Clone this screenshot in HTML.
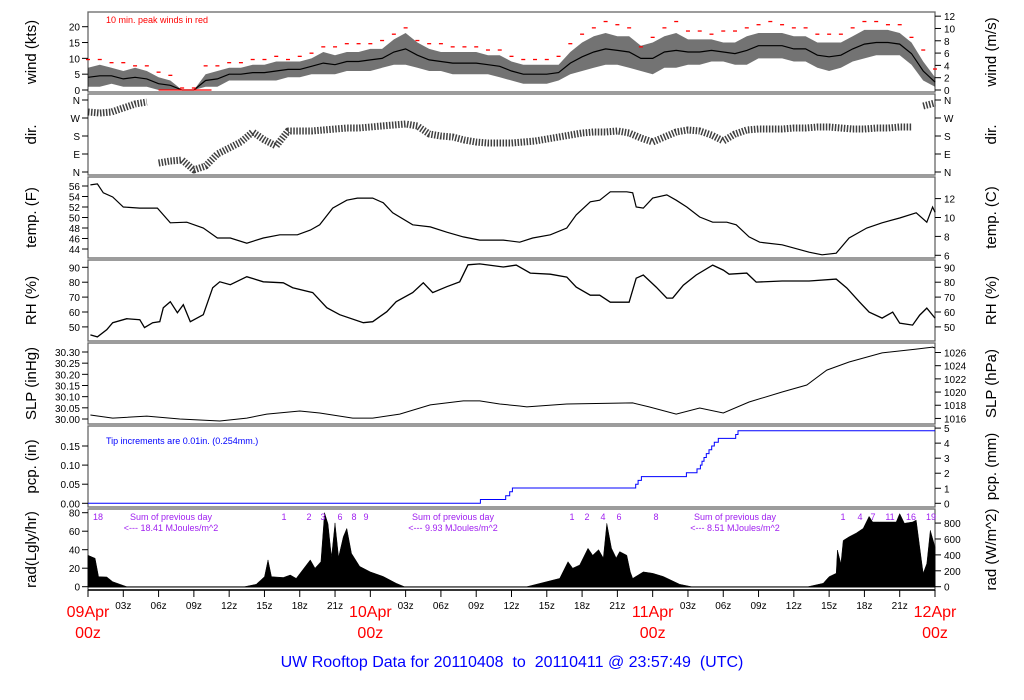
<!DOCTYPE html>
<html><head><meta charset="utf-8">
<style>
html,body{margin:0;padding:0;background:#fff;}
svg{display:block;font-family:"Liberation Sans",Arial,sans-serif;}
</style></head>
<body>
<svg id="chart" width="1024" height="700" viewBox="0 0 1024 700" xmlns="http://www.w3.org/2000/svg">
<rect width="1024" height="700" fill="#fff"/>
<g id="frames"></g>
<g id="marks"></g>
<g id="axes"></g>
<text x="512" y="667" text-anchor="middle" font-size="16" fill="#0000ff" style="white-space:pre" xml:space="preserve">UW Rooftop Data for 20110408  to  20110411 @ 23:57:49  (UTC)</text>
</svg>
<script>
// ---------- data ----------
const windHours = [0,1,2,3,4,5,6,7,8,9,10,11,12,13,14,15,16,17,18,19,20,21,22,23,24,25,26,27,28,29,30,31,32,33,34,35,36,37,38,39,40,41,42,43,44,45,46,47,48,49,50,51,52,53,54,55,56,57,58,59,60,61,62,63,64,65,66,67,68,69,70,71,72];
const windHi = [7,8,7,6,7,6,4,3,0,0,5,6,7,7,8,8,9,9,9,10,12,11,12,12,13,13,16,18,15,13,12,12,12,12,11,11,9,8,8,8,8,12,15,17,18,17,17,14,15,17,18,16,16,16,15,15,17,18,18,18,17,17,15,15,15,17,19,19,19,18,15,9,4];
const windLo = [1,1,2,1,1,1,0,0,0,0,1,1,3,3,3,3,3,4,4,5,5,5,6,6,6,7,8,8,7,6,6,5,5,5,5,4,3,2,2,2,3,5,6,7,8,8,7,6,5,7,7,8,8,9,9,8,8,10,10,10,9,9,7,6,7,9,10,11,11,11,8,3,1];
const windGust = [9,9,8,8,7,7,5,4,0,0,7,7,8,8,9,9,10,9,10,11,13,13,14,14,14,15,17,19,15,14,14,13,13,13,12,12,10,9,9,9,10,14,17,19,21,20,19,13,16,19,21,18,18,17,18,18,19,20,21,20,19,19,17,17,17,19,21,21,20,20,16,12,6];
const dirHours = windHours;
const dirDeg = [300,295,300,320,340,350,45,55,60,10,30,90,120,150,200,160,130,205,205,205,210,215,220,220,225,230,235,240,230,190,180,175,160,150,145,145,145,150,155,165,175,185,195,200,200,205,195,170,150,175,200,210,205,185,155,190,210,215,215,215,220,220,225,225,220,215,215,220,220,225,225,330,345];
const tempHours = [0.2,0.8,1.3,2.1,3.0,4.4,5.9,7.0,8.4,9.8,11.0,12.1,13.5,14.9,16.3,17.8,18.9,19.7,20.8,22.0,22.9,24.2,25.1,25.9,27.6,29.1,30.5,31.9,33.3,35.3,36.7,37.8,39.3,40.7,41.5,42.7,43.5,44.4,45.8,46.3,46.6,47.2,48.0,49.2,50.0,50.9,52.0,53.1,54.3,55.1,56.2,57.1,59.0,61.3,62.4,63.6,64.7,66.2,67.5,69.0,70.4,71.3,71.8,72.0];
const tempF = [56.2,56.4,54.7,53.9,52.0,51.8,51.8,49.0,49.1,48.0,46.1,46.1,45.1,46.1,46.7,46.7,47.6,48.6,51.8,53.3,53.7,53.7,52.8,50.9,48.6,48.2,47.2,46.3,45.7,45.7,45.3,46.1,46.7,48.0,50.5,53.0,53.3,54.9,54.9,54.7,52.0,51.8,53.7,54.3,53.3,52.0,50.1,49.1,49.1,48.6,46.3,45.3,44.8,43.4,42.9,43.2,46.1,48.0,49.0,49.9,50.9,49.1,52.0,51.0];
const rhHours = [0.2,0.8,1.6,2.1,3.3,4.4,4.8,5.5,6.1,6.4,7.0,7.6,8.1,8.7,9.8,10.6,11.2,12.1,13.5,14.9,16.6,17.4,19.1,20.3,21.4,23.4,24.2,25.4,26.2,27.6,28.5,29.3,30.5,31.6,32.3,33.3,35.3,36.4,37.6,39.3,40.7,41.5,42.7,43.5,44.4,46.0,46.6,47.2,48.3,49.2,49.7,50.6,51.7,53.1,54.0,54.5,56.0,56.8,59.0,61.3,63.6,64.5,65.6,66.4,67.5,68.4,69.0,70.1,70.7,71.3,72.0];
const rhPct = [44.6,43.3,48.1,52.8,55.5,54.8,49.5,52.8,53.5,62.9,66.9,59.5,64.9,53.5,58.2,76.3,80.3,78.3,83.7,80.3,79.6,76.3,73.0,62.9,58.2,52.8,53.5,60.2,66.9,73.0,79.6,73.0,77.0,80.3,91.7,92.3,90.2,91.5,86.1,85.4,83.4,76.7,71.3,71.3,66.6,66.6,82.7,84.8,76.7,69.3,69.3,78.0,84.8,91.5,88.1,85.4,86.1,80.1,80.8,80.8,82.1,76.1,66.6,59.9,55.9,59.9,52.5,51.2,57.9,62.6,55.9];
const slpHours = [0.2,2.1,5.0,7.8,11.2,13.5,15.2,18.0,19.7,22.5,24.2,26.5,29.1,31.9,33.3,35.0,36.7,37.3,40.7,46.3,47.7,50.0,52.0,54.0,56.2,59.0,61.1,62.8,64.7,67.5,70.4,71.8,72.0];
const slpInHg = [30.018,30.004,30.013,30.000,29.991,30.004,30.022,30.036,30.027,30.004,30.004,30.022,30.063,30.081,30.081,30.067,30.058,30.054,30.067,30.072,30.054,30.022,30.049,30.027,30.076,30.121,30.152,30.219,30.255,30.296,30.313,30.322,30.318];
const pcpTipHours = [33.36,35.51,35.85,36.08,46.56,46.76,47.04,50.87,51.77,52.06,52.19,52.36,52.56,52.79,53.02,53.24,53.58,55.06,55.25];
const pcpTotals = [0.01,0.02,0.03,0.04,0.05,0.06,0.07,0.08,0.09,0.10,0.11,0.12,0.13,0.14,0.15,0.16,0.17,0.18,0.19];
const radHours = [0,0.6,0.9,1.6,2.1,3.3,13.3,14.3,15.0,15.3,15.6,16.6,17.2,17.7,18.9,19.3,19.8,20.1,20.4,20.7,21.0,21.3,21.7,22.0,22.4,23.1,24.0,25.1,26.2,26.9,37.3,40.1,40.8,41.2,41.8,42.5,42.9,43.4,43.8,44.1,44.5,44.9,45.2,45.8,46.1,46.3,47.2,48.0,48.9,50.3,51.3,61.2,62.5,63.0,63.6,63.7,64.0,64.2,64.7,65.3,65.9,66.4,66.7,67.3,68.7,69.0,69.4,70.1,70.4,70.7,71.0,71.3,71.6,72.0];
const radLy = [34,30.7,10.8,10.5,5.4,0,0,2.6,10.8,29,10.8,10,12.6,9,29,20,27,80,68,32,69,32,54,63,36,22,16,11,3.7,0,0,9,27,20,23.5,41.5,34,40,31,68.5,41.5,31,38,34,16,9,16,14.5,11,2.6,0,0,3.7,10.8,14.5,39.7,25,50,54,58,63,76,70,70,70,79,68.5,70,72,43,14.5,25,61,43];
const timeTickLabels = ["","03z","06z","09z","12z","15z","18z","21z","","03z","06z","09z","12z","15z","18z","21z","","03z","06z","09z","12z","15z","18z","21z",""];
const dayLabels = ["09Apr","10Apr","11Apr","12Apr"];

// ---------- geometry ----------
const X0 = 88, X1 = 935, HOURS = 72;
const xs = h => X0 + h * (X1 - X0) / HOURS;
const yWind = v => 90 - v * 3.165;
const yDir = d => 172 - d * 0.2;
const yTemp = f => 186 + (56 - f) * 5.25;
const yRH = r => 267.3 + (90 - r) * 1.49;
const ySLP = p => 352 + (30.30 - p) * 223.3;
const yPcp = p => 503.3 - p * 382;
const yRad = v => 586.7 - v * 0.925;

const NS = "http://www.w3.org/2000/svg";
function mk(tag, attrs, parent, text) {
  const e = document.createElementNS(NS, tag);
  for (const k in attrs) e.setAttribute(k, attrs[k]);
  if (text !== undefined) e.textContent = text;
  parent.appendChild(e);
  return e;
}
const frames = document.getElementById('frames');
const marks = document.getElementById('marks');
const axes = document.getElementById('axes');

const panels = [
  {id:'wind', t:12, b:92, l:'wind (kts)', r:'wind (m/s)'},
  {id:'dir', t:94, b:175, l:'dir.', r:'dir.'},
  {id:'temp', t:177, b:258, l:'temp. (F)', r:'temp. (C)'},
  {id:'rh', t:260, b:341, l:'RH (%)', r:'RH (%)'},
  {id:'slp', t:343, b:424, l:'SLP (inHg)', r:'SLP (hPa)'},
  {id:'pcp', t:426, b:507, l:'pcp. (in)', r:'pcp. (mm)'},
  {id:'rad', t:509, b:590, l:'rad(Lgly/hr)', r:'rad (W/m^2)'}
];
panels.forEach(p => {
  const r = mk('rect', {x:X0, y:p.t, width:X1-X0, height:p.b-p.t, fill:'none', stroke:'#666', 'stroke-width':1.3}, frames);
  
  
  const cy = (p.t + p.b) / 2;
  const lt = mk('text', {x:0, y:0, transform:`translate(36 ${cy}) rotate(-90)`, 'text-anchor':'middle', 'font-size':15, fill:'#000'}, axes, p.l);
  
  
  const rt = mk('text', {x:0, y:0, transform:`translate(996 ${cy}) rotate(-90)`, 'text-anchor':'middle', 'font-size':15, fill:'#000'}, axes, p.r);
  
  
});

function tickL(y, label, name) {
  mk('line', {x1:X0-6, x2:X0, y1:y, y2:y, stroke:'#000'}, axes);
  const t = mk('text', {x:X0-8, y:y+4, 'text-anchor':'end', 'font-size':10}, axes, label);
  
  
}
function tickR(y, label, name) {
  mk('line', {x1:X1, x2:X1+6, y1:y, y2:y, stroke:'#000'}, axes);
  const t = mk('text', {x:X1+9, y:y+4, 'text-anchor':'start', 'font-size':10}, axes, label);
  
  
}
const windTicks=[0,5,10,15,20], windMs=[0,2,4,6,8,10,12];
windTicks.forEach(v=>tickL(yWind(v), String(v), 'wind-tick-label'));
windMs.forEach(v=>tickR(yWind(v*1.944), String(v), 'wind-ms-tick-label'));
const dirTickDeg=[0,90,180,270,360], dirTickLbl=['N','E','S','W','N'];
dirTickDeg.forEach((d,i)=>{tickL(yDir(d), dirTickLbl[i], 'dir-tick-label'); tickR(yDir(d), dirTickLbl[i], 'dir-tick-label-right');});
const tempTicks=[44,46,48,50,52,54,56], tempC=[6,8,10,12];
tempTicks.forEach(v=>tickL(yTemp(v), String(v), 'temp-tick-label'));
tempC.forEach(c=>tickR(yTemp(c*1.8+32), String(c), 'temp-c-tick-label'));
const rhTicks=[50,60,70,80,90];
rhTicks.forEach(v=>{tickL(yRH(v), String(v), 'rh-tick-label'); tickR(yRH(v), String(v), 'rh-tick-label-right');});
const slpTicks=[30.00,30.05,30.10,30.15,30.20,30.25,30.30], hpaTicks=[1016,1018,1020,1022,1024,1026];
slpTicks.forEach(v=>tickL(ySLP(v), v.toFixed(2), 'slp-tick-label'));
hpaTicks.forEach(v=>tickR(ySLP(v*0.02953), String(v), 'hpa-tick-label'));
const pcpTicks=[0,0.05,0.10,0.15], mmTicks=[0,1,2,3,4,5];
pcpTicks.forEach(v=>tickL(yPcp(v), v.toFixed(2), 'pcp-tick-label'));
mmTicks.forEach(v=>tickR(yPcp(v/25.4), String(v), 'mm-tick-label'));
const radTicks=[0,20,40,60,80], wTicks=[0,200,400,600,800];
radTicks.forEach(v=>tickL(yRad(v), String(v), 'rad-tick-label'));
wTicks.forEach(v=>tickR(yRad(v/11.63), String(v), 'wm2-tick-label'));

// time axis
mk('line', {x1:X0, x2:X1, y1:590, y2:590, stroke:'#000', 'stroke-width':1.5}, axes);
timeTickLabels.forEach((lab, i) => {
  const x = xs(i*3);
  mk('line', {x1:x, x2:x, y1:590, y2:597, stroke:'#000'}, axes);
  if (lab) {
    const t = mk('text', {x:x, y:609, 'text-anchor':'middle', 'font-size':10}, axes, lab);
    
    
  }
});
dayLabels.forEach((d, i) => {
  const x = xs(i*24);
  const t1 = mk('text', {x:x, y:617, 'text-anchor':'middle', 'font-size':16, fill:'#ff0000'}, axes, d);
  
  
  const t2 = mk('text', {x:x, y:638, 'text-anchor':'middle', 'font-size':16, fill:'#ff0000'}, axes, '00z');
  
  
});

// ---------- marks ----------
function linePath(hs, vs, yf) {
  return hs.map((h,i)=>(i?'L':'M')+xs(h).toFixed(1)+' '+yf(vs[i]).toFixed(1)).join(' ');
}
// wind band
let wp = windHours.map((h,i)=>(i?'L':'M')+xs(h).toFixed(1)+' '+yWind(windHi[i]).toFixed(1)).join(' ');
for (let i=windHours.length-1;i>=0;i--) wp += ' L'+xs(windHours[i]).toFixed(1)+' '+yWind(windLo[i]).toFixed(1);
const wb = mk('path', {d:wp+' Z', fill:'#000', 'fill-opacity':0.55, stroke:'none'}, marks);


const wl = mk('path', {d:linePath(windHours, windHours.map((h,i)=>(windHi[i]+windLo[i])/2), yWind), fill:'none', stroke:'#000', 'stroke-width':1.2}, marks);


windHours.forEach((h,i)=>{
  const g = mk('line', {x1:xs(h)-2, x2:xs(h)+2, y1:yWind(windGust[i])-2, y2:yWind(windGust[i])-2, stroke:'#ff0000', 'stroke-width':1.3}, marks);
  
  
});
const gl = mk('line', {x1:xs(6), x2:xs(10.5), y1:yWind(0), y2:yWind(0), stroke:'#ff0000', 'stroke-width':1.2}, marks);


const wnote = mk('text', {x:106, y:23, 'font-size':9, fill:'#ff0000'}, marks, '10 min. peak winds in red');



// direction (break on wrap jumps)
let dp = '';
dirHours.forEach((h,i)=>{
  const jump = i===0 || Math.abs(dirDeg[i]-dirDeg[i-1])>100;
  dp += (jump?'M':'L')+xs(h).toFixed(1)+' '+yDir(dirDeg[i]).toFixed(1)+' ';
});
const dl = mk('path', {d:dp, fill:'none', stroke:'#000', 'stroke-width':7, 'stroke-dasharray':'1.5 1.5', 'stroke-linejoin':'round', opacity:0.75}, marks);



const tl = mk('path', {d:linePath(tempHours, tempF, yTemp), fill:'none', stroke:'#000', 'stroke-width':1.2}, marks);


const rl = mk('path', {d:linePath(rhHours, rhPct, yRH), fill:'none', stroke:'#000', 'stroke-width':1.3}, marks);


const sl = mk('path', {d:linePath(slpHours, slpInHg, ySLP), fill:'none', stroke:'#000', 'stroke-width':1}, marks);



// precipitation step line
let pp = 'M'+xs(0)+' '+yPcp(0), prev = 0;
pcpTipHours.forEach((h,i)=>{ pp += ' L'+xs(h).toFixed(1)+' '+yPcp(prev).toFixed(1)+' L'+xs(h).toFixed(1)+' '+yPcp(pcpTotals[i]).toFixed(1); prev = pcpTotals[i]; });
pp += ' L'+X1+' '+yPcp(prev).toFixed(1);
const pl = mk('path', {d:pp, fill:'none', stroke:'#0000ff', 'stroke-width':1}, marks);


const pnote = mk('text', {x:106, y:444, 'font-size':9, fill:'#0000ff'}, marks, 'Tip increments are 0.01in. (0.254mm.)');



// radiation area
let rp = 'M'+xs(radHours[0]).toFixed(1)+' '+yRad(0);
radHours.forEach((h,i)=>{ rp += ' L'+xs(h).toFixed(1)+' '+yRad(Math.min(radLy[i],80)).toFixed(1); });
rp += ' L'+xs(radHours[radHours.length-1]).toFixed(1)+' '+yRad(0)+' Z';
const ra = mk('path', {d:rp, fill:'#000', stroke:'#000', 'stroke-width':0.5}, marks);


mk('line', {x1:X0, x2:X1, y1:587, y2:587, stroke:'#000', 'stroke-width':1}, marks);

// purple rad annotations
const P = '#a020f0';
const sums = [[171,'18.41'],[453,'9.93'],[735,'8.51']];
sums.forEach(s=>{
  const a = mk('text', {x:s[0], y:520, 'text-anchor':'middle', 'font-size':9, fill:P}, marks, 'Sum of previous day');
  
  
  const b = mk('text', {x:s[0], y:531, 'text-anchor':'middle', 'font-size':9, fill:P}, marks, '<--- '+s[1]+' MJoules/m^2');
  
  
});
const hrMarks = [[98,'18'],[284,'1'],[309,'2'],[323,'3'],[340,'6'],[354,'8'],[366,'9'],[572,'1'],[587,'2'],[603,'4'],[619,'6'],[656,'8'],[843,'1'],[860,'4'],[873,'7'],[890,'11'],[911,'16'],[931,'19']];
hrMarks.forEach(m=>{
  const t = mk('text', {x:m[0], y:520, 'text-anchor':'middle', 'font-size':9, fill:P}, marks, m[1]);
  
  
});
</script>
</body></html>
